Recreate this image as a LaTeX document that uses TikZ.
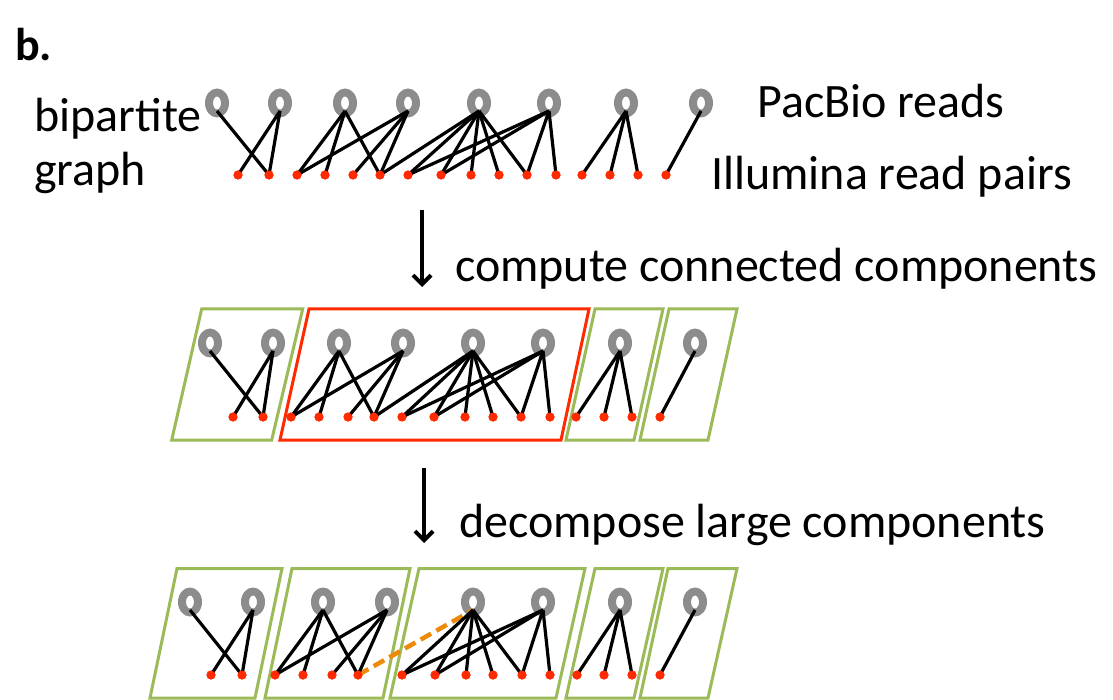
\documentclass[tikz,border=0pt]{standalone}
\usepackage{fontspec}
\setmainfont{Carlito}
\usetikzlibrary{arrows.meta,calc,shapes.geometric}
\definecolor{ringgray}{HTML}{8C8C8C}
\definecolor{dotred}{HTML}{FF2A00}
\definecolor{compgreen}{HTML}{9BBB59}
\definecolor{compred}{HTML}{FF2A00}
\definecolor{cutorange}{HTML}{EE8A0A}
\begin{document}
\begin{tikzpicture}[x=1pt,y=-1pt,
  ring/.style={ellipse, minimum width=24pt, minimum height=29pt, inner sep=0pt},
  dot/.style={circle, fill=dotred, minimum size=9pt, inner sep=0pt},
  edge/.style={line width=3.2pt, black},
  comp/.style={line width=3pt, draw=compgreen, line join=miter},
  bigcomp/.style={comp, draw=compred},
  cut/.style={line width=4.5pt, draw=cutorange, dash pattern=on 12pt off 6pt},
  lab/.style={anchor=base west, inner sep=0pt, font=\fontsize{48}{57}\selectfont},
  steparrow/.style={line width=4pt, -{Straight Barb[length=9pt,width=18pt]}}]
\useasboundingbox (0,0) rectangle (1113,700);
\fill[white] (0,0) rectangle (1113,700);

% labels
\node[anchor=base west, inner sep=0pt, font=\fontsize{46}{54}\selectfont\bfseries] (panel) at (15,61) {b.};
\node[lab] (bip) at (34,132) {bipartite};
\node[lab] (gra) at (34,186) {graph};
\node[lab] (pac) at (757,118) {PacBio reads};
\node[lab] (ill) at (711,190) {Illumina read pairs};
\node[lab] (cc) at (455,282) {compute connected components};
\node[lab] (dc) at (459,537) {decompose large components};

% step arrows
\coordinate (s1a) at (422,210);
\coordinate (s1b) at (422,287);
\coordinate (s2a) at (424,468);
\coordinate (s2b) at (424,543);
\draw[steparrow] (s1a) -- (s1b);
\draw[steparrow] (s2a) -- (s2b);

% component outlines after the connected-components step
\draw[comp] (201.7,309) -- (302.7,309) -- (271.7,440) -- (171.7,440) -- cycle;
\draw[bigcomp] (309,309) -- (589,309) -- (561,440) -- (280,440) -- cycle;
\draw[comp] (595,309) -- (663,309) -- (634,440) -- (566,440) -- cycle;
\draw[comp] (669,309) -- (737,309) -- (708,440) -- (640,440) -- cycle;

% component outlines after decomposition
\draw[comp] (177,568.5) -- (282,568.5) -- (255,698) -- (150,698) -- cycle;
\draw[comp] (292,568.5) -- (410,568.5) -- (383,698) -- (265,698) -- cycle;
\draw[comp] (419,568.5) -- (585,568.5) -- (556,698) -- (390,698) -- cycle;
\draw[comp] (595,568.5) -- (663,568.5) -- (634,698) -- (566,698) -- cycle;
\draw[comp] (668,568.5) -- (737,568.5) -- (708,698) -- (640,698) -- cycle;

% PacBio reads (rings) and Illumina read pairs (dots), three rows
\foreach \x [count=\i] in {217,280,345,408,479,549,626,701}
  \node[ring] (tP\i) at (\x,103) {};
\foreach \x [count=\i] in {238,269,297,325,353,380,408,441,471,499,527,556,582,610,638,666}
  \node[dot] (tD\i) at (\x,175) {};

\foreach \x [count=\i] in {210,273,339,403,473,543,620,695}
  \node[ring] (mP\i) at (\x,343) {};
\foreach \x [count=\i] in {233,263,291,319,348,374,402,434,465,493,521,550,576,604,632,660}
  \node[dot] (mD\i) at (\x,417) {};

\foreach \x [count=\i] in {190,253,323,387,473,543,620,695}
  \node[ring] (bP\i) at (\x,602) {};
\foreach \x [count=\i] in {211,242,275,303,332,358,402,435,466,493,522,550,577,604,632,660}
  \node[dot] (bD\i) at (\x,675) {};

% donut body of every ring
\foreach \r in {t,m,b}
  \foreach \i in {1,...,8}
    \fill[ringgray, even odd rule] (\r P\i.center) ellipse [x radius=12pt, y radius=14.5pt]
      (\r P\i.center) ellipse [x radius=4pt, y radius=6.5pt];

% removed edge in the decomposed component
\draw[cut] (bD6.center) -- ($(bP5.center)+(0,8)$);

% overlap edges
\foreach \r in {t,m,b}
  \foreach \p/\d in {1/2,2/1,2/2,3/3,3/4,3/6,4/3,4/5,4/6,5/7,5/8,5/9,5/10,5/11,
                     6/7,6/8,6/11,6/12,7/13,7/14,7/15,8/16}
    \draw[edge] ($(\r P\p.center)+(0,8)$) -- (\r D\d.center);
\foreach \r in {t,m}
  \draw[edge] ($(\r P5.center)+(0,8)$) -- (\r D6.center);

% redraw dots above the edges
\foreach \r in {t,m,b}
  \foreach \i in {1,...,16}
    \fill[dotred] (\r D\i) circle (4.5pt);
\end{tikzpicture}
\end{document}
